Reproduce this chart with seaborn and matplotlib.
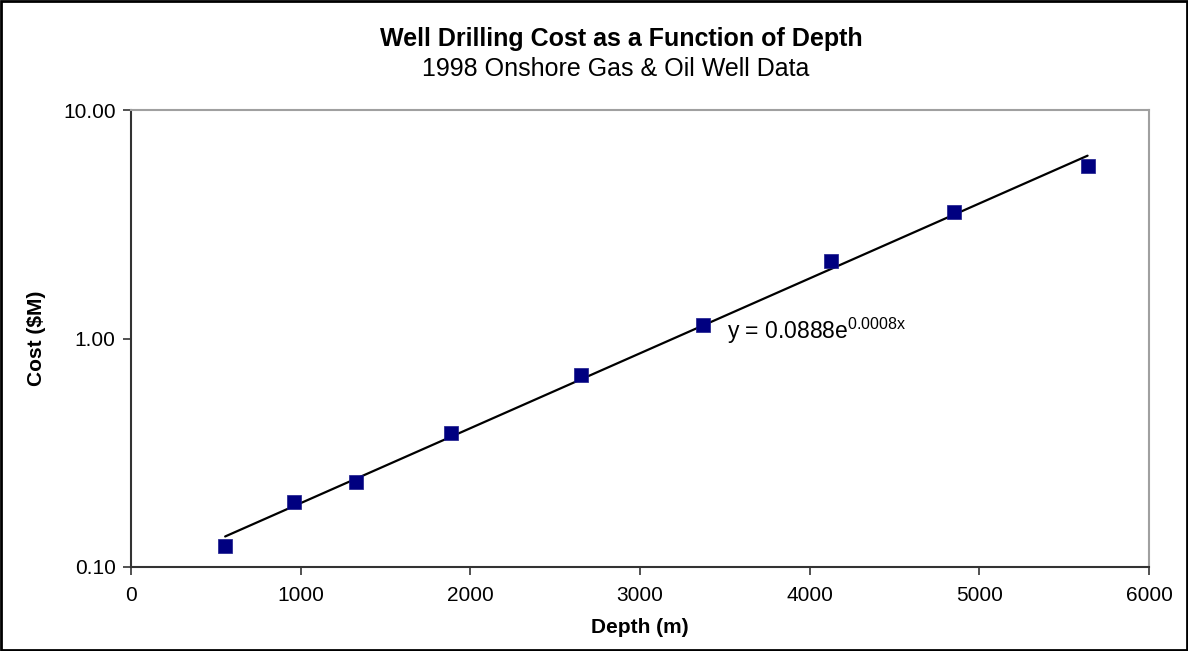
import numpy as np
import pandas as pd
import matplotlib
matplotlib.use('Agg')
import matplotlib.pyplot as plt
import seaborn as sns

# values
depth_m = [555, 958, 1327, 1888, 2655, 3370, 4128, 4848, 5638]
cost_musd = [0.124, 0.193, 0.236, 0.385, 0.690, 1.146, 2.18, 3.57, 5.69]
x_ticks = [0, 1000, 2000, 3000, 4000, 5000, 6000]
y_ticks = [0.1, 1.0, 10.0]
y_tick_labels = ['0.10', '1.00', '10.00']
equation_text = r'y = 0.0888e$^{0.0008x}$'

sns.set_style('white')
plt.rcParams['font.family'] = ['Liberation Sans', 'DejaVu Sans']
plt.rcParams['mathtext.fontset'] = 'custom'
plt.rcParams['mathtext.rm'] = 'Liberation Sans'
plt.rcParams['mathtext.default'] = 'regular'
plt.rcParams['text.color'] = 'black'
plt.rcParams['axes.labelcolor'] = 'black'
plt.rcParams['xtick.color'] = 'black'
plt.rcParams['ytick.color'] = 'black'

df = pd.DataFrame({'Depth (m)': depth_m, 'Cost ($M)': cost_musd})

# exponential trendline, least squares on ln(cost) like Excel does
slope, intercept = np.polyfit(df['Depth (m)'], np.log(df['Cost ($M)']), 1)
trend_x = np.linspace(min(depth_m), max(depth_m), 50)
df_trend = pd.DataFrame({'x': trend_x, 'y': np.exp(intercept + slope * trend_x)})

fig = plt.figure(figsize=(11.88, 6.51), dpi=100)
ax = fig.add_axes([131 / 1188, 1 - 567 / 651, (1149 - 131) / 1188, (567 - 110) / 651])

sns.lineplot(data=df_trend, x='x', y='y', ax=ax, color='black', linewidth=1.6, zorder=2)
sns.scatterplot(data=df, x='Depth (m)', y='Cost ($M)', ax=ax, marker='s', s=115,
                color='#000080', edgecolor='#1a1a8c', linewidth=0.5, zorder=3)

ax.set_yscale('log')
ax.set_xlim(0, 6000)
ax.set_ylim(0.1, 10)
ax.set_xticks(x_ticks)
ax.set_xticklabels([str(t) for t in x_ticks], fontsize=15)
ax.set_yticks(y_ticks)
ax.set_yticklabels(y_tick_labels, fontsize=15)
ax.yaxis.set_minor_locator(matplotlib.ticker.NullLocator())
ax.tick_params(axis='x', direction='out', length=6, width=1.2, color='#333333', bottom=True, pad=8)
ax.tick_params(axis='y', direction='out', length=6, width=1.2, color='#333333', left=True, pad=5)

for side in ['left', 'bottom']:
    ax.spines[side].set_color('#333333')
    ax.spines[side].set_linewidth(1.5)
for side in ['top', 'right']:
    ax.spines[side].set_color('#a0a0a0')
    ax.spines[side].set_linewidth(1.5)

ax.set_xlabel('Depth (m)', fontweight='bold', fontsize=15, labelpad=9)
ax.set_ylabel('Cost ($M)', fontweight='bold', fontsize=15, labelpad=12)

ax.text(3510, 1.0, equation_text, fontsize=16.5, ha='left', va='baseline')

fig.text(621 / 1188, 1 - 39 / 651, 'Well Drilling Cost as a Function of Depth',
         ha='center', va='center', fontsize=18, fontweight='bold')
fig.text(616 / 1188, 1 - 69 / 651, '1998 Onshore Gas & Oil Well Data',
         ha='center', va='center', fontsize=18)

# outer chart border
fig.patches.append(matplotlib.patches.Rectangle((0.001, 0.002), 0.998, 0.996,
                   transform=fig.transFigure, fill=False, edgecolor='black', linewidth=2))

fig.savefig('out.png', dpi=100)
